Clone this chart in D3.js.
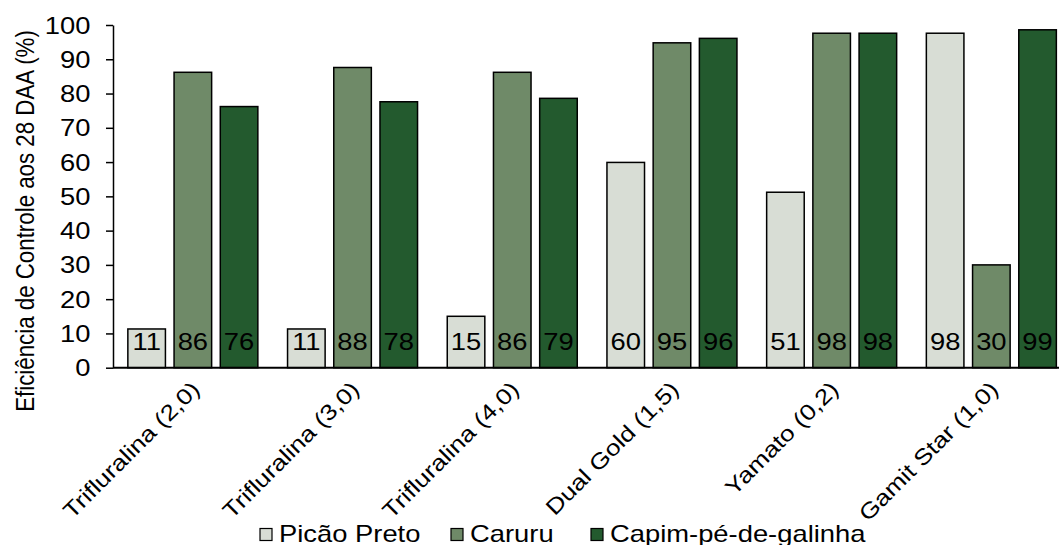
<!DOCTYPE html>
<html><head><meta charset="utf-8">
<script src="https://cdn.jsdelivr.net/npm/d3@7"></script>
<style>
html,body{margin:0;padding:0;background:#fff;}
text{font-family:"Liberation Sans",Arial,sans-serif;fill:#000;}
</style></head>
<body>
<svg id="c" width="1059" height="545"></svg>
<script>
const categories = ["Trifluralina (2,0)","Trifluralina (3,0)","Trifluralina (4,0)","Dual Gold (1,5)","Yamato (0,2)","Gamit Star (1,0)"];
const series = ["Picão Preto","Caruru","Capim-pé-de-galinha"];
const picaoPreto = [11.3, 11.3, 15.0, 59.9, 51.2, 97.6];
const caruru = [86.2, 87.6, 86.2, 94.8, 97.6, 30.0];
const capim = [76.2, 77.6, 78.6, 96.1, 97.6, 98.6];
const colors = ["#d8ddd5", "#6f8a68", "#235a2e"];
const yTicks = [0,10,20,30,40,50,60,70,80,90,100];
const yTitle = "Eficiência de Controle aos 28 DAA (%)";

const values = [picaoPreto, caruru, capim];
const SX = 1.19;      // horizontal stretch of the glyphs
const FS = 23;        // font size
const svg = d3.select("#c");
const mLeft = 113, mTop = 25, mBottom = 367.7;
const x0 = d3.scaleBand().domain(categories).range([mLeft, 1071.2]).paddingInner(0).paddingOuter(0);
const bw = x0.bandwidth();
const x1 = d3.scaleBand().domain(series).range([14.85, bw - 14.85]).paddingInner(0.187).paddingOuter(0);
const y = d3.scaleLinear().domain([0, 100]).range([mBottom, mTop]);

function stretchedText(parent, x, yy, txt, anchor, size, extra) {
  return parent.append("text")
    .attr("transform", `translate(${x},${yy}) scale(${SX},1)` + (extra || ""))
    .attr("text-anchor", anchor)
    .attr("font-size", size)
    .text(txt);
}

// bars
const g = svg.append("g");
categories.forEach((c, ci) => {
  series.forEach((s, si) => {
    const v = values[si][ci];
    g.append("rect")
      .attr("x", x0(c) + x1(s))
      .attr("y", y(v))
      .attr("width", x1.bandwidth())
      .attr("height", y(0) - y(v))
      .attr("fill", colors[si])
      .attr("stroke", "#000")
      .attr("stroke-width", 1.5);
    stretchedText(g, x0(c) + x1(s) + x1.bandwidth() / 2, y(0) - 17.3, Math.round(v), "middle", FS);
  });
});

// y axis
const yAxis = d3.axisLeft(y).tickValues(yTicks).tickSize(7).tickSizeOuter(0).tickPadding(0);
const ya = svg.append("g").attr("transform", `translate(${mLeft},0)`).call(yAxis);
ya.selectAll("text")
  .attr("x", -22.5 / SX)
  .attr("transform", `scale(${SX},1)`)
  .attr("font-size", FS)
  .attr("dy", "0.35em")
  .style("font-family", '"Liberation Sans",Arial,sans-serif')
  .attr("fill", "#000");
ya.select(".domain").attr("stroke", "#000").attr("stroke-width", 1.5);
ya.selectAll(".tick line").attr("stroke", "#000").attr("stroke-width", 1.5);

// x axis line
svg.append("line").attr("x1", mLeft).attr("x2", 1071).attr("y1", y(0)).attr("y2", y(0))
  .attr("stroke", "#000").attr("stroke-width", 2);

// x labels (45 degrees in picture space, glyphs stretched along the text)
categories.forEach(c => {
  const cx = x0(c) + bw / 2;
  svg.append("text")
    .attr("transform", `translate(${cx - 3},${y(0) + 12}) rotate(-45) scale(${SX},1)`)
    .attr("text-anchor", "end")
    .attr("dy", "0.72em")
    .attr("font-size", 22)
    .text(c);
});

// y title
stretchedText(svg, 33.5, 221, yTitle, "middle", 22.3, " rotate(-90)");

// legend
const legX = [260, 451, 591];
series.forEach((s, i) => {
  svg.append("rect").attr("x", legX[i]).attr("y", 528.5).attr("width", 12).attr("height", 12)
    .attr("fill", colors[i]).attr("stroke", "#000").attr("stroke-width", 1.2);
  stretchedText(svg, legX[i] + 19, 541.5, s, "start", FS);
});
</script>
</body></html>
